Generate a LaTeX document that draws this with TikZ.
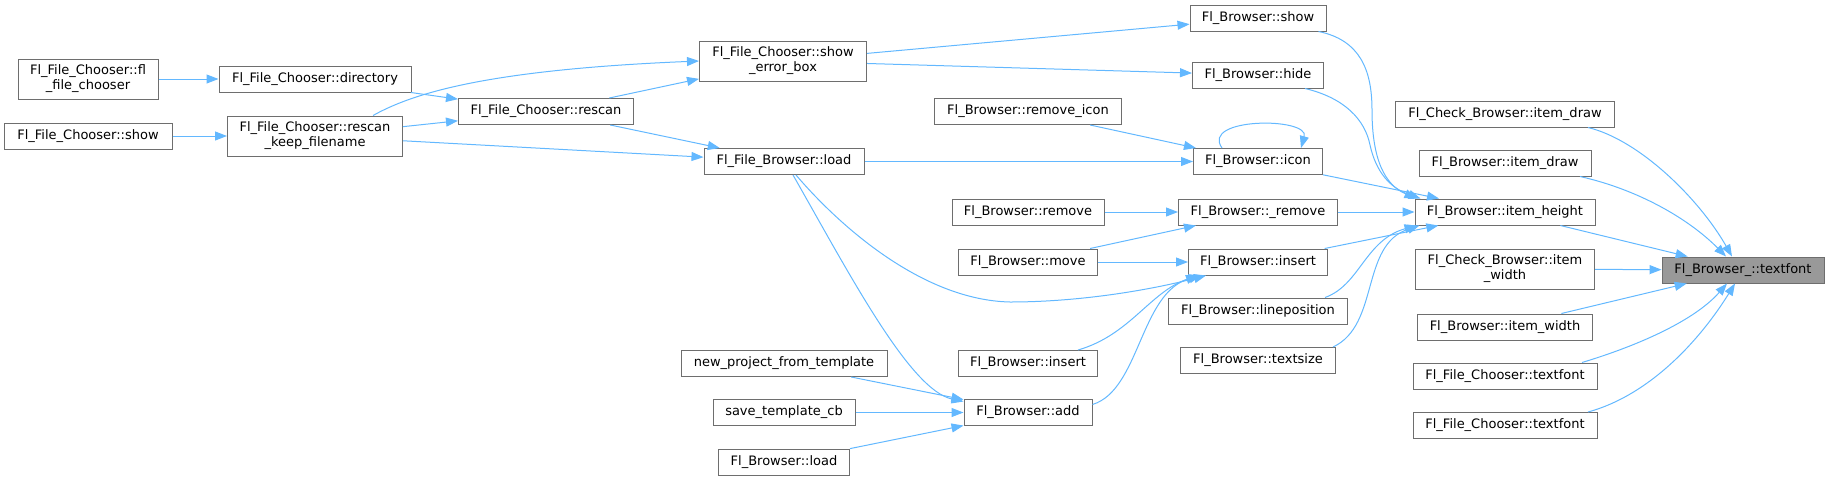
\documentclass[tikz,border=0pt]{standalone}
\usepackage{fontspec}
\setmainfont{DejaVu Sans}
\usetikzlibrary{arrows.meta}
\definecolor{edgeblue}{HTML}{63B8FF}
\definecolor{boxgray}{HTML}{6E6E6E}
\definecolor{hlgray}{HTML}{999999}
\tikzset{
  box/.style={draw=boxgray, fill=white, line width=1pt, minimum height=26pt, inner sep=0pt,
    font=\fontsize{13}{15}\selectfont, align=center},
  boxtwo/.style={box, minimum height=40pt},
  hlbox/.style={box, fill=hlgray},
  edge/.style={draw=edgeblue, line width=1pt, -{Triangle[length=12pt,width=9pt]}}
}
\begin{document}
\begin{tikzpicture}[x=1pt,y=-1pt]
\useasboundingbox (0,0) rectangle (1829,480);
% rank 1
\node[boxtwo, minimum width=140pt] (fl) at (88,79) {Fl\_File\_Chooser::fl\\\_file\_chooser};
\node[box, minimum width=168pt] (fcshow) at (88,136) {Fl\_File\_Chooser::show};
% rank 2
\node[box, minimum width=192pt] (directory) at (315,79) {Fl\_File\_Chooser::directory};
\node[boxtwo, minimum width=175pt] (rkf) at (315,136) {Fl\_File\_Chooser::rescan\\\_keep\_filename};
% rank 3
\node[box, minimum width=175pt] (rescan) at (546,111.5) {Fl\_File\_Chooser::rescan};
% rank 4
\node[boxtwo, minimum width=167pt] (seb) at (783,61) {Fl\_File\_Chooser::show\\\_error\_box};
\node[box, minimum width=160pt] (fbload) at (784,161.5) {Fl\_File\_Browser::load};
\node[box, minimum width=206pt] (npft) at (784,363.5) {new\_project\_from\_template};
\node[box, minimum width=142pt] (stcb) at (784,412.5) {save\_template\_cb};
\node[box, minimum width=131pt] (bload) at (784,462) {Fl\_Browser::load};
% rank 5
\node[box, minimum width=187pt] (ricon) at (1028,111.5) {Fl\_Browser::remove\_icon};
\node[box, minimum width=152pt] (bremove) at (1028,212) {Fl\_Browser::remove};
\node[box, minimum width=139pt] (move) at (1028,262) {Fl\_Browser::move};
\node[box, minimum width=139pt] (insert2) at (1028,363.5) {Fl\_Browser::insert};
\node[box, minimum width=128pt] (add) at (1028,412.5) {Fl\_Browser::add};
% rank 6
\node[box, minimum width=136pt] (bshow) at (1258,18) {Fl\_Browser::show};
\node[box, minimum width=131pt] (bhide) at (1258,75) {Fl\_Browser::hide};
\node[box, minimum width=129pt] (icon) at (1258,161.5) {Fl\_Browser::icon};
\node[box, minimum width=159pt] (uremove) at (1258,212) {Fl\_Browser::\_remove};
\node[box, minimum width=139pt] (insert1) at (1258,262) {Fl\_Browser::insert};
\node[box, minimum width=179pt] (linepos) at (1258,311) {Fl\_Browser::lineposition};
\node[box, minimum width=155pt] (textsize) at (1258,360.5) {Fl\_Browser::textsize};
% rank 7
\node[box, minimum width=219pt] (cbid) at (1505,114) {Fl\_Check\_Browser::item\_draw};
\node[box, minimum width=172pt] (bid) at (1505,163) {Fl\_Browser::item\_draw};
\node[box, minimum width=180pt] (ih) at (1505,212) {Fl\_Browser::item\_height};
\node[boxtwo, minimum width=179pt] (cbiw) at (1505,269) {Fl\_Check\_Browser::item\\\_width};
\node[box, minimum width=175pt] (biw) at (1505,327) {Fl\_Browser::item\_width};
\node[box, minimum width=184pt] (fct1) at (1505,376) {Fl\_File\_Chooser::textfont};
\node[box, minimum width=184pt] (fct2) at (1505,425.5) {Fl\_File\_Chooser::textfont};
% rank 8
\node[hlbox, minimum width=162pt] (tf) at (1743,270) {Fl\_Browser\_::textfont};

% edges
\draw[edge] (fl) -- (directory);
\draw[edge] (directory) -- (rescan);
\draw[edge] (fcshow) -- (rkf);
\draw[edge] (rkf) -- (rescan);
\draw[edge] ([xshift=58pt]rkf.north) .. controls (410,95) and (480,70) .. (seb.west);
\draw[edge] (rkf) -- (fbload);
\draw[edge] (rescan) -- (seb);
\draw[edge] (rescan) -- (fbload);
\draw[edge] (seb) -- (bshow);
\draw[edge] (seb) -- (bhide);
\draw[edge] (ricon) -- (icon);
\draw[edge] ([xshift=-36pt]icon.north) .. controls +(-22,-31) and +(9,-31) .. ([xshift=43pt]icon.north);
\draw[edge] (fbload) -- (icon);
\draw[edge] ([xshift=12pt]fbload.south) .. controls (836,222) and (920,300) .. (1010,302)
  .. controls (1080,302) and (1150,290) .. ([xshift=-52pt]insert1.south);
\draw[edge] ([xshift=9pt]fbload.south) .. controls (850,275) and (910,390) .. ([yshift=11pt]add.west);
\draw[edge] (bremove) -- (uremove);
\draw[edge] (move) -- (uremove);
\draw[edge] (move) -- (insert1);
\draw[edge] ([xshift=50pt]insert2.north) .. controls (1130,335) and (1150,292) .. ([xshift=-60pt]insert1.south);
\draw[edge] ([yshift=8pt]add.east) .. controls (1140,390) and (1140,292) .. ([xshift=-57pt]insert1.south);
\draw[edge] ([xshift=-8pt]bshow.south east) .. controls (1360,40) and (1372,70) .. (1372,110)
  .. controls (1372,160) and (1385,185) .. ([xshift=2pt]ih.north west);
\draw[edge] ([xshift=47pt]bhide.south) .. controls (1345,98) and (1365,120) .. (1370,145)
  .. controls (1376,172) and (1390,188) .. ([xshift=6pt]ih.north west);
\draw[edge] (icon) -- (ih);
\draw[edge] (uremove) -- (ih);
\draw[edge] (insert1) -- (ih);
\draw[edge] ([xshift=67pt]linepos.north) .. controls (1360,285) and (1365,240) .. ([xshift=2pt]ih.south west);
\draw[edge] ([xshift=75pt]textsize.north) .. controls (1380,325) and (1360,245) .. ([xshift=5pt]ih.south west);
\draw[edge] ([xshift=83pt]cbid.south) .. controls (1640,140) and (1700,200) .. ([xshift=-11pt]tf.north);
\draw[edge] ([xshift=75pt]bid.south) .. controls (1640,190) and (1690,220) .. ([xshift=-17pt]tf.north);
\draw[edge] (ih) -- (tf);
\draw[edge] (cbiw) -- (tf);
\draw[edge] (biw) -- (tf);
\draw[edge] ([xshift=77pt]fct1.north) .. controls (1640,345) and (1695,320) .. ([xshift=-16pt]tf.south);
\draw[edge] ([xshift=83pt]fct2.north) .. controls (1650,395) and (1700,340) .. ([xshift=-8pt]tf.south);
\draw[edge] (npft) -- (add);
\draw[edge] (stcb) -- (add);
\draw[edge] (bload) -- (add);
\end{tikzpicture}
\end{document}
